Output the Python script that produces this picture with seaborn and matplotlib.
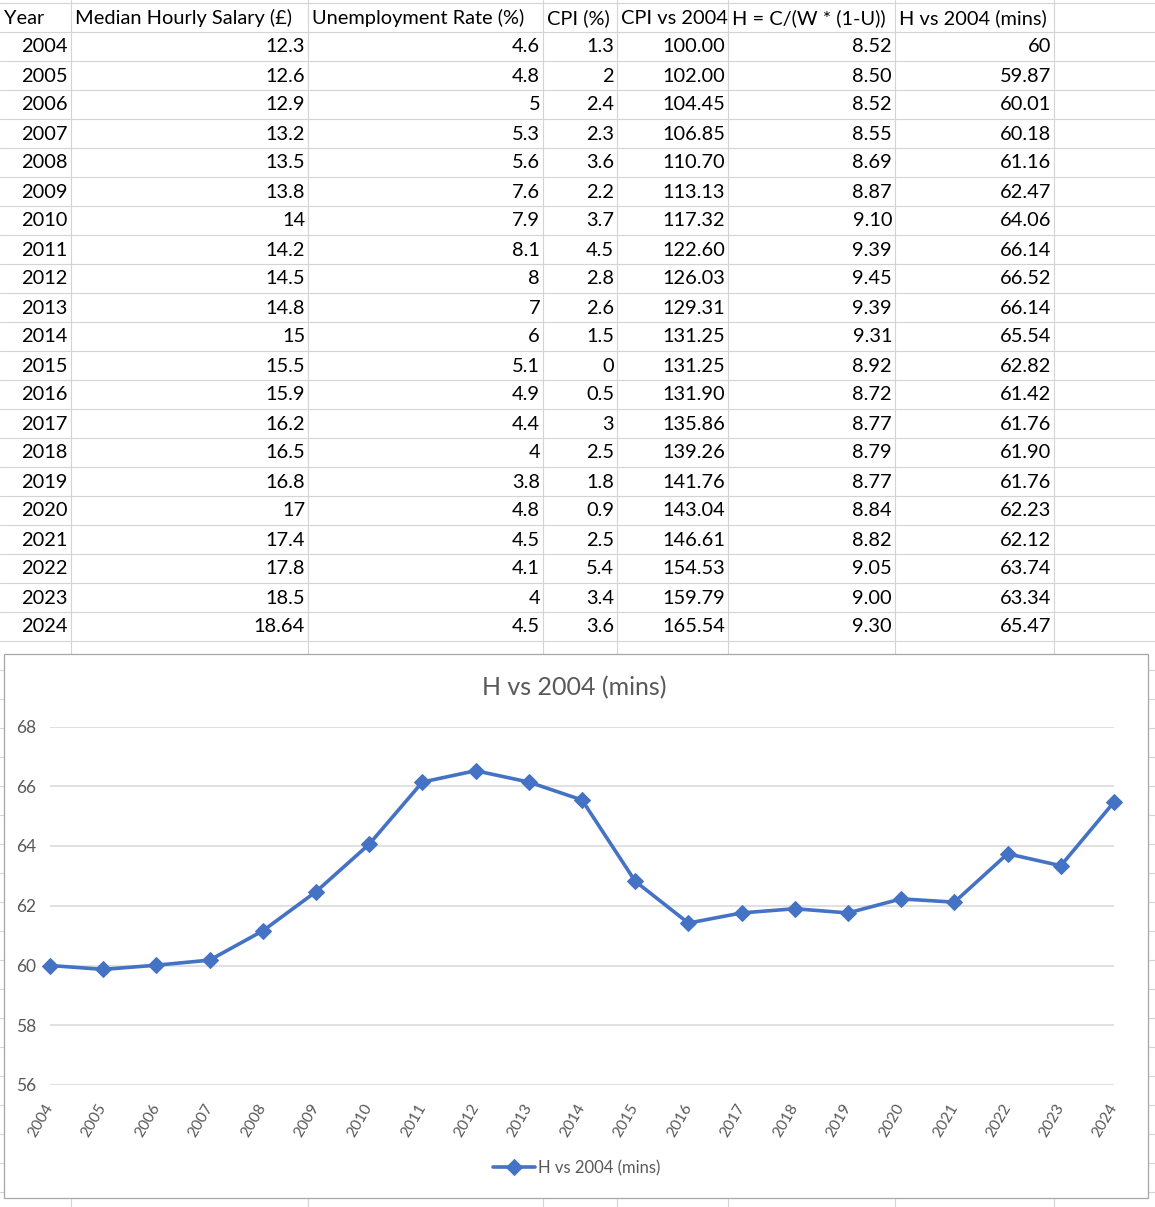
import matplotlib.pyplot as plt
import matplotlib.patches as mpatches
import seaborn as sns

# spreadsheet data
years = list(range(2004, 2025))
salary = [12.3, 12.6, 12.9, 13.2, 13.5, 13.8, 14, 14.2, 14.5, 14.8, 15,
          15.5, 15.9, 16.2, 16.5, 16.8, 17, 17.4, 17.8, 18.5, 18.64]
unemp = [4.6, 4.8, 5, 5.3, 5.6, 7.6, 7.9, 8.1, 8, 7, 6,
         5.1, 4.9, 4.4, 4, 3.8, 4.8, 4.5, 4.1, 4, 4.5]
cpi = [1.3, 2, 2.4, 2.3, 3.6, 2.2, 3.7, 4.5, 2.8, 2.6, 1.5,
       0, 0.5, 3, 2.5, 1.8, 0.9, 2.5, 5.4, 3.4, 3.6]
cpi_idx = [100.00, 102.00, 104.45, 106.85, 110.70, 113.13, 117.32, 122.60,
           126.03, 129.31, 131.25, 131.25, 131.90, 135.86, 139.26, 141.76,
           143.04, 146.61, 154.53, 159.79, 165.54]
h_val = [8.52, 8.50, 8.52, 8.55, 8.69, 8.87, 9.10, 9.39, 9.45, 9.39, 9.31,
         8.92, 8.72, 8.77, 8.79, 8.77, 8.84, 8.82, 9.05, 9.00, 9.30]
h_vs = [60, 59.87, 60.01, 60.18, 61.16, 62.47, 64.06, 66.14, 66.52, 66.14,
        65.54, 62.82, 61.42, 61.76, 61.90, 61.76, 62.23, 62.12, 63.74, 63.34,
        65.47]

headers = ['Year', 'Median Hourly Salary (£)', 'Unemployment Rate (%)',
           'CPI (%)', 'CPI vs 2004', 'H = C/(W * (1-U))', 'H vs 2004 (mins)']
columns = [years, salary, unemp, cpi, cpi_idx, h_val, h_vs]
formats = ['{:g}', '{:g}', '{:g}', '{:g}', '{:.2f}', '{:.2f}', '{:.2f}']

W, H = 1155, 1207
col_lines = [70.7, 308, 543, 617, 728, 895, 1054]
col_left = [0] + col_lines[:-1]
row_top, row_h = 2.5, 29.0
grid_col = '#D4D4D4'
line_col = '#4472C4'
text_grey = '#595959'

sns.set_style('white')
plt.rcParams['font.family'] = ['Lato', 'DejaVu Sans']

fig = plt.figure(figsize=(W / 100, H / 100), dpi=100)

# sheet background drawn in pixel coordinates
sheet = fig.add_axes([0, 0, 1, 1])
sheet.set_xlim(0, W)
sheet.set_ylim(H, 0)
sheet.axis('off')

for k in range(43):
    sheet.axhline(row_top + row_h * k, color=grid_col, lw=0.8, zorder=1)
for x in col_lines:
    sheet.axvline(x, color=grid_col, lw=0.8, zorder=1)

for j, head in enumerate(headers):
    sheet.text(col_left[j] + 4, 18, head, ha='left', va='center',
               fontsize=14.4, color='black', zorder=3)

for j, col in enumerate(columns):
    for i, v in enumerate(col):
        fmt = formats[j]
        if j == 6 and i == 0:
            fmt = '{:g}'   # base year was typed in as a plain number
        sheet.text(col_lines[j] - 3, 18 + row_h * (i + 1), fmt.format(v),
                   ha='right', va='center', fontsize=14.4, color='black', zorder=3)

# chart box
sheet.add_patch(mpatches.Rectangle((3.5, 653.5), 1144, 544.5, facecolor='white',
                                   edgecolor='#A6A6A6', lw=0.9, zorder=5))
sheet.text(574.5, 688, 'H vs 2004 (mins)', ha='center', va='center',
           fontsize=18, color=text_grey, zorder=6)

# chart itself
ax = fig.add_axes([50 / W, 1 - 1085 / H, 1064 / W, (1085 - 726.5) / H])
ax.patch.set_alpha(0)
sns.lineplot(x=years, y=h_vs, ax=ax, color=line_col, lw=2.6, marker='D',
             markersize=8.5, markeredgecolor=line_col, label='H vs 2004 (mins)')
for ln in ax.lines:
    ln.set_clip_on(False)

ax.set_xlim(2004, 2024)
ax.set_ylim(56, 68)
ax.set_xticks(years)
ax.set_yticks(range(56, 69, 2))
ax.grid(axis='y', color='#D9D9D9', lw=1.1)
ax.set_axisbelow(True)
for s in ax.spines.values():
    s.set_visible(False)
ax.tick_params(length=0, colors=text_grey)
ax.tick_params(axis='y', pad=10, labelsize=12.5)
ax.tick_params(axis='x', pad=14, labelsize=11.2)
for lab in ax.get_xticklabels():
    lab.set_rotation(60)
    lab.set_rotation_mode('anchor')
    lab.set_ha('right')
    lab.set_va('center')

ax.legend(loc='center', bbox_to_anchor=(577 / W, 1 - 1168 / H),
          bbox_transform=fig.transFigure, frameon=False, fontsize=12,
          handlelength=2.5, handletextpad=0.2, labelcolor=text_grey)

fig.savefig('out.png', dpi=100)
